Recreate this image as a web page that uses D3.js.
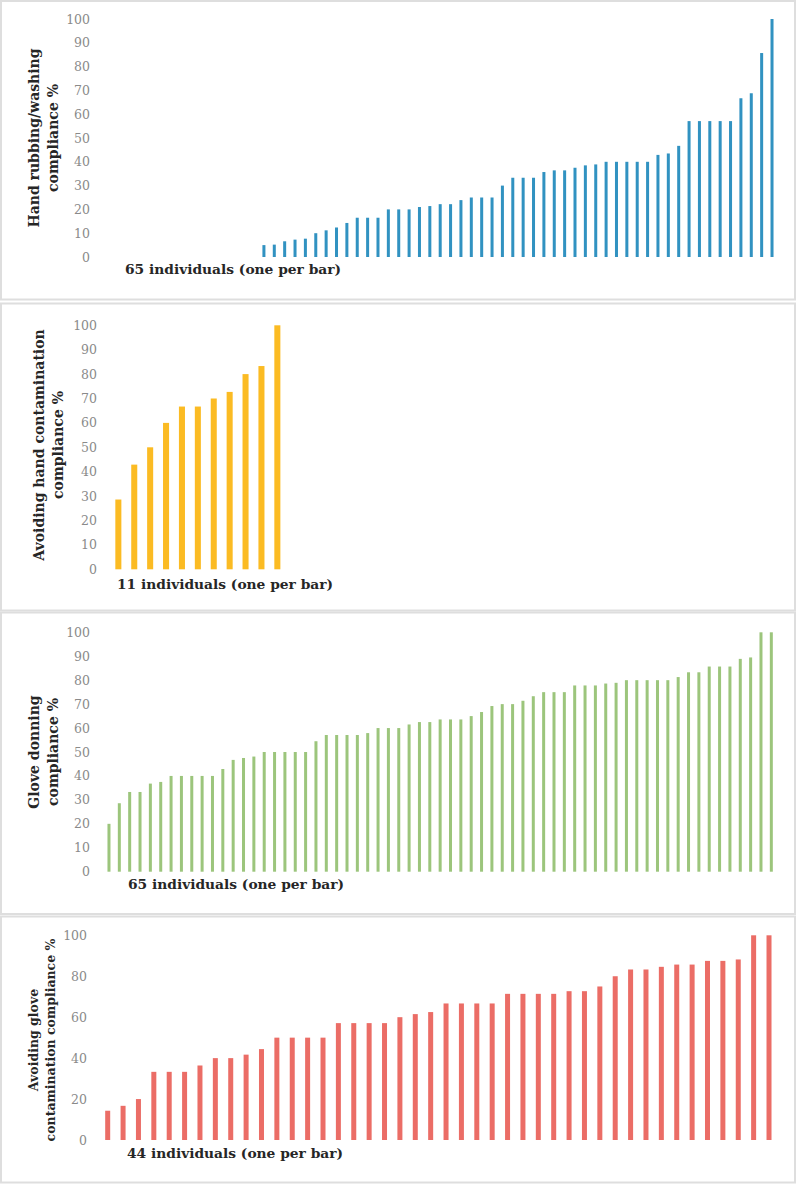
<!DOCTYPE html>
<html>
<head>
<meta charset="utf-8">
<script src="https://cdn.jsdelivr.net/npm/d3@7"></script>
<style>
  body { margin: 0; background: #fff; }
  .tick text { font-family: "DejaVu Serif", serif; font-size: 12.5px; fill: #8a8a8a; }
  .title { font-family: "DejaVu Serif", serif; font-weight: bold; fill: #262626; }
</style>
</head>
<body>
<div id="chart"></div>
<script>
// compliance % per individual, sorted ascending
const handRubbing = [
  0, 0, 0, 0, 0, 0, 0, 0, 0, 0, 0, 0, 0, 0, 0,
  5, 5.2, 6.6, 7.3, 7.7, 10, 11.2, 12.4, 14.3, 16.5, 16.5, 16.5, 20, 20,
  20, 21, 21.4, 22.2, 22.2, 23.9, 25, 25, 25, 30, 33.3, 33.3, 33.3,
  35.7, 36.4, 36.4, 37.5, 38.5, 38.9, 40, 40, 40, 40, 40, 42.9, 43.5, 46.7,
  57.1, 57.1, 57.1, 57.1, 57.1, 66.7, 68.8, 85.7, 100
]
const avoidingHand = [28.6, 42.9, 50, 60, 66.7, 66.7, 70, 72.7, 80, 83.3, 100]
const gloveDonning = [
  20, 28.6, 33.3, 33.3, 36.8, 37.5, 40, 40, 40, 40, 40, 42.9, 46.7, 47.5, 48.1,
  50, 50, 50, 50, 50, 54.5, 57.1, 57.1, 57.1, 57.1, 57.9, 60, 60, 60,
  61.5, 62.5, 62.5, 63.6, 63.6, 63.6, 65, 66.7, 69.2, 70, 70, 71.4, 73.3,
  75, 75, 75, 77.8, 77.8, 77.8, 78.6, 78.9, 80, 80, 80, 80, 80, 81.3,
  83.3, 83.3, 85.7, 85.7, 85.7, 88.9, 89.5, 100, 100
]
const avoidingGlove = [
  14.3, 16.7, 20, 33.3, 33.3, 33.3, 36.4, 40, 40, 41.7, 44.4, 50, 50, 50, 50,
  57.1, 57.1, 57.1, 57.1, 60, 61.5, 62.5, 66.7, 66.7, 66.7, 66.7,
  71.4, 71.4, 71.4, 71.4, 72.7, 72.7, 75, 80, 83.3, 83.3, 84.6, 85.7, 85.7,
  87.5, 87.5, 88.2, 100, 100
]

const ticksBy10 = [0, 10, 20, 30, 40, 50, 60, 70, 80, 90, 100]
const ticksBy20 = [0, 20, 40, 60, 80, 100]

const yTitles = [
  ["Hand rubbing/washing", "compliance %"],
  ["Avoiding hand contamination", "compliance %"],
  ["Glove donning", "compliance %"],
  ["Avoiding glove", "contamination compliance %"]
]
const xTitles = [
  "65 individuals (one per bar)",
  "11 individuals (one per bar)",
  "65 individuals (one per bar)",
  "44 individuals (one per bar)"
]

const panels = [
  { values: handRubbing, ticks: ticksBy10, color: "#3192c1",
    box: [1, 1, 299.5], y0: 257, y100: 19, x: [103.2, 777.2], pad: 0.71,
    tickX: 90, titleX: [39, 57.5], titleY: 138, titleSize: 14, xTitle: [125, 274] },
  { values: avoidingHand, ticks: ticksBy10, color: "#fbbb23",
    box: [303.5, 610.5], y0: 569.3, y100: 325.3, x: [110.4, 285.3], pad: 0.62,
    tickX: 97, titleX: [43.5, 62.5], titleY: 445, titleSize: 14, xTitle: [117, 589] },
  { values: gloveDonning, ticks: ticksBy10, color: "#9cc57c",
    box: [612.5, 914], y0: 871.7, y100: 632.3, x: [103.8, 776.5], pad: 0.71,
    tickX: 90, titleX: [39, 57.5], titleY: 752, titleSize: 14, xTitle: [128, 889] },
  { values: avoidingGlove, ticks: ticksBy20, color: "#eb6d66",
    box: [916.5, 1182.5], y0: 1140, y100: 935.3, x: [100, 776.7], pad: 0.675,
    tickX: 87, titleX: [37.5, 55], titleY: 1040, titleSize: 12.5, xTitle: [127, 1158] }
]

const width = 797
const height = 1184

const svg = d3
  .select("#chart")
  .append("svg")
  .attr("width", width)
  .attr("height", height)

panels.forEach((p, k) => {
  const top = p.box.length === 3 ? p.box[0] : p.box[0]
  const bottom = p.box[p.box.length - 1]

  svg
    .append("rect")
    .attr("x", 1)
    .attr("y", top)
    .attr("width", 794)
    .attr("height", bottom - top)
    .style("fill", "none")
    .style("stroke", "#dedede")
    .style("stroke-width", 2)

  const x = d3
    .scaleBand()
    .domain(d3.range(p.values.length))
    .range(p.x)
    .paddingInner(p.pad)
    .paddingOuter(p.pad / 2)

  const y = d3
    .scaleLinear()
    .domain([0, 100])
    .range([p.y0, p.y100])

  const axis = svg
    .append("g")
    .attr("transform", `translate(${p.tickX},0)`)
    .call(d3.axisLeft(y).tickValues(p.ticks).tickSize(0).tickPadding(0))
  axis.select(".domain").remove()

  svg
    .append("g")
    .selectAll("rect")
    .data(p.values)
    .enter()
    .append("rect")
    .attr("x", (d, i) => x(i))
    .attr("y", d => y(d))
    .attr("width", x.bandwidth())
    .attr("height", d => y(0) - y(d))
    .style("fill", p.color)

  yTitles[k].forEach((line, j) => {
    svg
      .append("text")
      .attr("class", "title")
      .attr("transform", `translate(${p.titleX[j]},${p.titleY}) rotate(-90)`)
      .attr("text-anchor", "middle")
      .style("font-size", p.titleSize + "px")
      .text(line)
  })

  svg
    .append("text")
    .attr("class", "title")
    .attr("x", p.xTitle[0])
    .attr("y", p.xTitle[1])
    .style("font-size", "13.8px")
    .text(xTitles[k])
})
</script>
</body>
</html>
